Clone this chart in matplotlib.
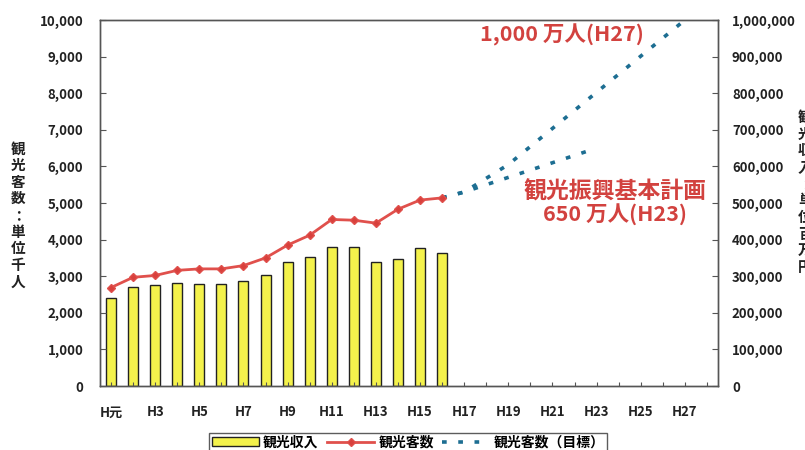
import matplotlib
matplotlib.use("Agg")
import matplotlib.pyplot as plt
from matplotlib.ticker import FuncFormatter

plt.rcParams['font.family'] = ['Noto Sans CJK JP', 'DejaVu Sans']

# H1(元) .. H28, one slot per year
year_labels = ["H元", "", "H3", "", "H5", "", "H7", "", "H9", "", "H11", "", "H13", "",
               "H15", "", "H17", "", "H19", "", "H21", "", "H23", "", "H25", "", "H27", ""]
# actual values H1..H16
income = [241000, 271000, 277000, 281000, 278000, 278000, 287000, 304000,
          339000, 353000, 381000, 381000, 339000, 348000, 377000, 363000]   # 百万円
visitors = [2690, 2970, 3020, 3160, 3200, 3200, 3290, 3500,
            3850, 4120, 4550, 4530, 4450, 4830, 5080, 5140]                # 千人
# targets (year number, 千人)
goal_long_years = [16, 17, 19, 27]
goal_long = [5140, 5300, 6050, 10000]
goal_plan_years = [16, 17, 23]
goal_plan = [5140, 5300, 6500]

red = '#e0504c'
teal = '#1d6e92'
txt_red = '#d2423f'

fig = plt.figure(figsize=(8.05, 4.5), dpi=100)
ax = fig.add_axes([100/805, 64/450, 618/805, 366/450])
ax2 = ax.twinx()
ax.set_zorder(ax2.get_zorder() + 1)
ax.patch.set_visible(False)

x_act = range(len(income))
b = ax2.bar(x_act, income, width=0.45, color='#f4f24c', edgecolor='#222222',
            linewidth=1.0, label='観光収入')
l1, = ax.plot(x_act, visitors, color=red, lw=2, marker='D', ms=4,
              mfc='#d8403c', mec=red, label='観光客数', zorder=4)
l2, = ax.plot([y - 1 for y in goal_long_years], goal_long, color=teal, lw=2.6,
              ls=(0, (1.3, 3.2)), label='観光客数（目標）', zorder=3)
ax.plot([y - 1 for y in goal_plan_years], goal_plan, color=teal, lw=2.6,
        ls=(0, (1.3, 3.2)), zorder=3)

ax.set_xlim(-0.5, len(year_labels) - 0.5)
ax.set_ylim(0, 10000)
ax2.set_ylim(0, 1000000)
ax.set_yticks(range(0, 10001, 1000))
ax2.set_yticks(range(0, 1000001, 100000))
fmt = FuncFormatter(lambda v, p: f"{int(v):,}")
ax.yaxis.set_major_formatter(fmt)
ax2.yaxis.set_major_formatter(fmt)
ax.set_xticks(range(len(year_labels)))
ax.set_xticklabels(year_labels)

for a in (ax, ax2):
    for s in a.spines.values():
        s.set_color('#555555')
        s.set_linewidth(1.0)
ax.tick_params(axis='y', direction='in', length=4, color='#555555',
               labelsize=9.5, pad=12, labelcolor='#222222')
ax2.tick_params(axis='y', direction='in', length=4, color='#555555',
                labelsize=9.5, pad=10, labelcolor='#222222')
ax.tick_params(axis='x', direction='in', length=3, color='#555555',
               labelsize=9.5, pad=14, labelcolor='#222222')
for t in ax.get_xticklabels() + ax.get_yticklabels() + ax2.get_yticklabels():
    t.set_fontweight('bold')

# axis titles (stacked vertical characters)
fig.text(18/805, 1 - 215/450, "\n".join("観光客数：単位千人"), ha='center', va='center',
         fontsize=10.5, fontweight='bold', color='#222222', linespacing=1.05)
fig.text(798/805, 1 - 192/450, "\n".join("観光収入：単位百万円"), ha='left', va='center',
         fontsize=10.5, fontweight='bold', color='#222222', linespacing=1.05)

# annotations
ax.text(16.7, 9600, "1,000 万人(H27)", color=txt_red, fontsize=15.5, fontweight='bold',
        ha='left', va='center')
ax.text(22.85, 5300, "観光振興基本計画", color=txt_red, fontsize=16.5, fontweight='bold',
        ha='center', va='center')
ax.text(22.85, 4670, "650 万人(H23)", color=txt_red, fontsize=15.5, fontweight='bold',
        ha='center', va='center')

leg = fig.legend([b, l1, l2], ['観光収入', '観光客数', '観光客数（目標）'],
                 loc='upper center', bbox_to_anchor=(0.507, 0.045 + 4/450), ncol=3,
                 frameon=True, fancybox=False, edgecolor='#333333',
                 handlelength=3.4, handletextpad=0.3, columnspacing=0.6,
                 borderpad=0.2, prop={'weight': 'bold', 'size': 10})
leg.get_frame().set_linewidth(1.0)

fig.savefig("out.png", dpi=100)
